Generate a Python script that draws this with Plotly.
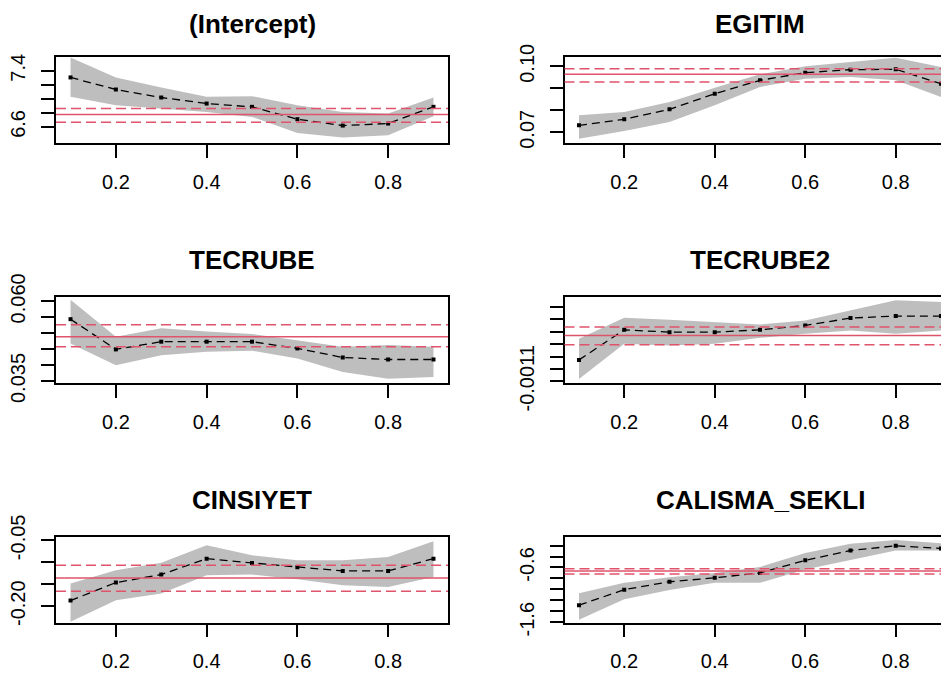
import plotly.graph_objects as go

# ---------------- data ----------------
taus = [0.1, 0.2, 0.3, 0.4, 0.5, 0.6, 0.7, 0.8, 0.9]

panel_titles = ["(Intercept)", "EGITIM", "TECRUBE", "TECRUBE2", "CINSIYET", "CALISMA_SEKLI"]

intercept_coef = [7.305, 7.133, 7.019, 6.933, 6.886, 6.710, 6.619, 6.648, 6.886]
intercept_hi = [7.590, 7.305, 7.162, 7.029, 7.038, 6.910, 6.814, 6.790, 7.019]
intercept_lo = [7.029, 6.910, 6.862, 6.814, 6.743, 6.514, 6.448, 6.481, 6.752]
intercept_ols = [6.776, 6.667, 6.862]          # estimate, lower, upper

egitim_coef = [0.07318, 0.07591, 0.08045, 0.08758, 0.09364, 0.09712, 0.09848, 0.09864, 0.09212]
egitim_hi = [0.07773, 0.07924, 0.08379, 0.09030, 0.09636, 0.10000, 0.10197, 0.10394, 0.09970]
egitim_lo = [0.06712, 0.07061, 0.07470, 0.08227, 0.09061, 0.09439, 0.09515, 0.09364, 0.08606]
egitim_ols = [0.09636, 0.09288, 0.09894]

tecrube_coef = [0.05441, 0.04492, 0.04734, 0.04734, 0.04734, 0.04523, 0.04238, 0.04175, 0.04175]
tecrube_hi = [0.06053, 0.04892, 0.05156, 0.05051, 0.04977, 0.04787, 0.04576, 0.04629, 0.04576]
tecrube_lo = [0.04681, 0.03996, 0.04312, 0.04418, 0.04449, 0.04207, 0.03785, 0.03574, 0.03627]
tecrube_ols = [0.04892, 0.04576, 0.05262]

tecrube2_coef = [-0.000927, -0.000684, -0.000703, -0.000703, -0.000684, -0.000649, -0.000589, -0.000573, -0.000573]
tecrube2_hi = [-0.000757, -0.000586, -0.000603, -0.000622, -0.000641, -0.000608, -0.000527, -0.000446, -0.000459]
tecrube2_lo = [-0.001081, -0.000797, -0.000811, -0.000797, -0.000749, -0.000716, -0.000689, -0.000716, -0.000689]
tecrube2_ols = [-0.000730, -0.000805, -0.000662]

cinsiyet_coef = [-0.1871, -0.1462, -0.1280, -0.0917, -0.1015, -0.1114, -0.1197, -0.1197, -0.0917]
cinsiyet_hi = [-0.1485, -0.1182, -0.1008, -0.0614, -0.0841, -0.0955, -0.0955, -0.0879, -0.0523]
cinsiyet_lo = [-0.2356, -0.1864, -0.1712, -0.1295, -0.1280, -0.1386, -0.1523, -0.1561, -0.1333]
cinsiyet_ols = [-0.1356, -0.1659, -0.1068]

calisma_coef = [-1.288, -1.006, -0.861, -0.789, -0.699, -0.470, -0.290, -0.205, -0.254]
calisma_hi = [-1.072, -0.879, -0.777, -0.699, -0.590, -0.338, -0.169, -0.097, -0.157]
calisma_lo = [-1.554, -1.180, -1.012, -0.879, -0.879, -0.639, -0.458, -0.290, -0.290]
calisma_ols = [-0.665, -0.720, -0.625]

x_tickvals = [0.2, 0.4, 0.6, 0.8]
x_ticktext = ["0.2", "0.4", "0.6", "0.8"]

intercept_yticks = [6.6, 6.8, 7.0, 7.2, 7.4]
intercept_ylabels = ["6.6", "", "", "", "7.4"]
egitim_yticks = [0.07, 0.08, 0.09, 0.10]
egitim_ylabels = ["0.07", "", "", "0.10"]
tecrube_yticks = [0.035, 0.040, 0.045, 0.050, 0.055, 0.060]
tecrube_ylabels = ["0.035", "", "", "", "", "0.060"]
tecrube2_yticks = [-0.0011, -0.0010, -0.0009, -0.0008, -0.0007, -0.0006, -0.0005]
tecrube2_ylabels = ["-0.0011", "", "", "", "", "", ""]
cinsiyet_yticks = [-0.20, -0.15, -0.10, -0.05]
cinsiyet_ylabels = ["-0.20", "", "", "-0.05"]
calisma_yticks = [-1.6, -1.4, -1.2, -1.0, -0.8, -0.6, -0.4, -0.2]
calisma_ylabels = ["-1.6", "", "", "", "", "-0.6", "", ""]

# ---------------- layout geometry ----------------
W, H = 949, 675
OFF = 8   # page body margin: figure is drawn 8px right/down in the browser
FONT = "Liberation Sans, Arial, sans-serif"
BAND = "#BEBEBE"
RED = "#DF536B"

# panel boxes in reference-picture pixels
col_px = [(56, 448), (564.5, 955.5)]
row_px = [(57, 143), (297, 383), (537, 622.5)]
x_range = [0.068, 0.932]

y_ranges = [
    [6.371, 7.596],
    [0.06515, 0.10424],
    [0.03437, 0.06137],
    [-0.0011135, -0.000419],
    [-0.2371, -0.04242],
    [-1.605, -0.044],
]

panels = [
    (intercept_coef, intercept_lo, intercept_hi, intercept_ols, intercept_yticks, intercept_ylabels),
    (egitim_coef, egitim_lo, egitim_hi, egitim_ols, egitim_yticks, egitim_ylabels),
    (tecrube_coef, tecrube_lo, tecrube_hi, tecrube_ols, tecrube_yticks, tecrube_ylabels),
    (tecrube2_coef, tecrube2_lo, tecrube2_hi, tecrube2_ols, tecrube2_yticks, tecrube2_ylabels),
    (cinsiyet_coef, cinsiyet_lo, cinsiyet_hi, cinsiyet_ols, cinsiyet_yticks, cinsiyet_ylabels),
    (calisma_coef, calisma_lo, calisma_hi, calisma_ols, calisma_yticks, calisma_ylabels),
]


def px_x(p):
    return (p - OFF) / W


def px_y(p):
    return 1 - (p - OFF) / H


fig = go.Figure()
layout = dict(
    template="none",
    width=W, height=H, autosize=False,
    margin=dict(l=0, r=0, t=0, b=0, pad=0, autoexpand=False),
    paper_bgcolor="white", plot_bgcolor="white",
    showlegend=False,
    font=dict(family=FONT, color="#000000"),
)
shapes = []
annotations = []

for i, (coef, lo, hi, ols, ytv, ytt) in enumerate(panels):
    r, c = divmod(i, 2)
    n = i + 1
    xa = "x" if n == 1 else f"x{n}"
    ya = "y" if n == 1 else f"y{n}"
    xkey = "xaxis" if n == 1 else f"xaxis{n}"
    ykey = "yaxis" if n == 1 else f"yaxis{n}"
    x0p, x1p = col_px[c]
    t_px, b_px = row_px[r]

    # confidence band
    fig.add_trace(go.Scatter(
        x=taus + taus[::-1], y=hi + lo[::-1], xaxis=xa, yaxis=ya,
        mode="lines", fill="toself", fillcolor=BAND,
        line=dict(width=0, color=BAND), hoverinfo="skip"))
    # quantile coefficients
    fig.add_trace(go.Scatter(
        x=taus, y=coef, xaxis=xa, yaxis=ya, mode="lines+markers",
        line=dict(color="black", width=1.3, dash="8px,5px"),
        marker=dict(symbol="square", size=4, color="black")))

    # OLS estimate and CI
    for k, val in enumerate(ols):
        shapes.append(dict(
            type="line", xref=f"{xa} domain", yref=ya, x0=0, x1=1, y0=val, y1=val,
            line=dict(color=RED, width=1.5, dash="solid" if k == 0 else "10px,5px"),
            layer="above"))

    layout[xkey] = dict(
        domain=[px_x(x0p), min(px_x(x1p), 1.0)], range=x_range, anchor=ya, automargin=False,
        showgrid=False, zeroline=False,
        showline=True, linecolor="black", linewidth=1.5, mirror=True,
        ticks="outside", ticklen=13, tickwidth=1.5, tickcolor="black",
        tickvals=x_tickvals, ticktext=x_ticktext,
        tickfont=dict(family=FONT, size=20, color="#000000"),
        ticklabelstandoff=7,
    )
    layout[ykey] = dict(
        domain=[px_y(b_px), px_y(t_px)], range=y_ranges[i], anchor=xa, automargin=False,
        showgrid=False, zeroline=False,
        showline=True, linecolor="black", linewidth=1.5, mirror=True,
        ticks="outside", ticklen=13, tickwidth=1.5, tickcolor="black",
        tickvals=ytv, ticktext=ytt, tickangle=-90,
        tickfont=dict(family=FONT, size=20, color="#000000"),
        ticklabelstandoff=8,
    )
    cx = (x0p + x1p) / 2
    if r == 0:
        ty, tanchor = 1.0, "top"
    else:
        ty, tanchor = px_y(t_px - 37), "middle"
    annotations.append(dict(
        text=f"<b>{panel_titles[i]}</b>", xref="paper", yref="paper",
        x=px_x(cx), y=ty, xanchor="center", yanchor=tanchor, borderpad=0,
        showarrow=False, font=dict(family=FONT, size=26, color="#000000")))

layout["shapes"] = shapes
layout["annotations"] = annotations
fig.update_layout(**layout)
fig.write_html("out.html")
